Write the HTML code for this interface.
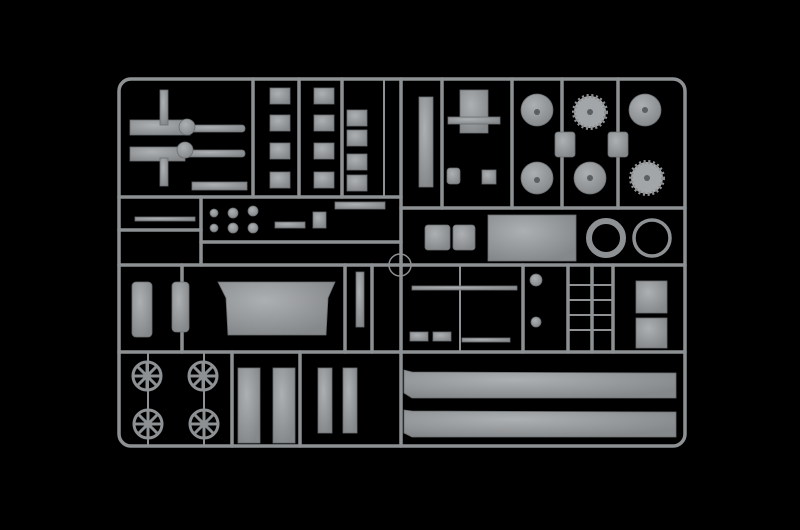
<!DOCTYPE html>
<html><head><style>html,body{margin:0;padding:0;background:#000;width:800px;height:530px;overflow:hidden}</style></head>
<body>
<svg width="800" height="530" viewBox="0 0 800 530" xmlns="http://www.w3.org/2000/svg">
<rect width="800" height="530" fill="#000"/>
<defs>
<radialGradient id="g" cx="40%" cy="35%" r="70%"><stop offset="0" stop-color="#adb0b2"/><stop offset="1" stop-color="#85888a"/></radialGradient>
</defs>
<g fill="none" stroke="#8e9193" stroke-width="3.5" stroke-linecap="round">
<rect x="119" y="79" width="566" height="367" rx="12"/>
<line x1="401" y1="79" x2="401" y2="446"/>
<line x1="119" y1="197" x2="401" y2="197"/>
<line x1="119" y1="265" x2="685" y2="265"/>
<line x1="119" y1="352" x2="685" y2="352"/>
<line x1="401" y1="208" x2="685" y2="208"/>
<line x1="253" y1="79" x2="253" y2="197"/>
<line x1="299" y1="79" x2="299" y2="197"/>
<line x1="342" y1="79" x2="342" y2="197"/>
<line x1="201" y1="197" x2="201" y2="265"/>
<line x1="201" y1="242" x2="401" y2="242"/>
<line x1="119" y1="230" x2="201" y2="230"/>
<line x1="442" y1="79" x2="442" y2="208"/>
<line x1="512" y1="79" x2="512" y2="208"/>
<line x1="562" y1="79" x2="562" y2="208"/>
<line x1="618" y1="79" x2="618" y2="208"/>
<line x1="523" y1="265" x2="523" y2="352"/>
<line x1="568" y1="265" x2="568" y2="352"/>
<line x1="592" y1="265" x2="592" y2="352"/>
<line x1="613" y1="265" x2="613" y2="352"/>
<line x1="182" y1="265" x2="182" y2="352"/>
<line x1="232" y1="352" x2="232" y2="446"/>
<line x1="300" y1="352" x2="300" y2="446"/>
<line x1="345" y1="265" x2="345" y2="352"/>
<line x1="372" y1="265" x2="372" y2="352"/>
<line x1="384" y1="79" x2="384" y2="197" stroke-width="2"/>
<line x1="460" y1="265" x2="460" y2="352" stroke-width="2"/>
<line x1="148" y1="352" x2="148" y2="446" stroke-width="2"/>
<line x1="204" y1="352" x2="204" y2="446" stroke-width="2"/>
<line x1="568" y1="300" x2="613" y2="300" stroke-width="2"/>
<line x1="568" y1="315" x2="613" y2="315" stroke-width="2"/>
<line x1="568" y1="330" x2="613" y2="330" stroke-width="2"/>
<line x1="568" y1="285" x2="613" y2="285" stroke-width="2"/>
</g>
<g fill="url(#g)" stroke="#6c6f71" stroke-width="0.8">
<rect x="130" y="120" width="60" height="15"/><rect x="185" y="125" width="60" height="7" rx="3"/><circle cx="187" cy="127" r="8"/>
<rect x="130" y="147" width="55" height="14"/><rect x="185" y="150" width="60" height="7" rx="3"/><circle cx="185" cy="150" r="8"/>
<rect x="160" y="90" width="8" height="35"/><rect x="160" y="158" width="8" height="28"/>
<rect x="192" y="182" width="55" height="8"/>
<rect x="270" y="88" width="20" height="16"/><rect x="270" y="115" width="20" height="16"/><rect x="270" y="143" width="20" height="16"/><rect x="270" y="172" width="20" height="16"/>
<rect x="314" y="88" width="20" height="16"/><rect x="314" y="115" width="20" height="16"/><rect x="314" y="143" width="20" height="16"/><rect x="314" y="172" width="20" height="16"/>
<rect x="347" y="110" width="20" height="16"/><rect x="347" y="130" width="20" height="16"/><rect x="347" y="154" width="20" height="16"/><rect x="347" y="175" width="20" height="16"/>
<circle cx="233" cy="213" r="5"/><circle cx="233" cy="228" r="5"/><circle cx="253" cy="211" r="5"/><circle cx="253" cy="228" r="5"/><circle cx="214" cy="213" r="4"/><circle cx="214" cy="228" r="4"/>
<rect x="313" y="212" width="13" height="16"/><rect x="335" y="202" width="50" height="7"/>
<rect x="275" y="222" width="30" height="6"/><rect x="135" y="217" width="60" height="4"/>
<rect x="132" y="282" width="20" height="55" rx="4"/><rect x="172" y="282" width="17" height="50" rx="4"/>
<path d="M218 282 L335 282 L328 298 L326 335 L228 335 L226 298 Z"/>
<rect x="356" y="272" width="8" height="55"/>
</g>
<g fill="none" stroke="#8e9193" stroke-width="3">
<circle cx="147" cy="376" r="14"/><circle cx="203" cy="376" r="14"/><circle cx="148" cy="424" r="14"/><circle cx="204" cy="424" r="14"/>
<path d="M133 376H161M147 362V390M137 366L157 386M157 366L137 386M189 376H217M203 362V390M193 366L213 386M213 366L193 386M134 424H162M148 410V438M138 414L158 434M158 414L138 434M190 424H218M204 410V438M194 414L214 434M214 414L194 434"/>
<circle cx="400" cy="265" r="11" stroke-width="1.5"/>
<circle cx="606" cy="238" r="17" stroke-width="6"/><circle cx="652" cy="238" r="18" stroke-width="3.5"/>
</g>
<g fill="url(#g)" stroke="#6c6f71" stroke-width="0.8">
<rect x="238" y="368" width="22" height="75"/><rect x="273" y="368" width="22" height="75"/>
<rect x="318" y="368" width="14" height="65"/><rect x="343" y="368" width="14" height="65"/>
<rect x="419" y="97" width="14" height="90"/>
<rect x="460" y="90" width="28" height="43"/><rect x="448" y="117" width="52" height="7"/>
<circle cx="537" cy="110" r="16"/><circle cx="537" cy="178" r="16"/>
<circle cx="645" cy="110" r="16"/><circle cx="590" cy="178" r="16"/>
<rect x="555" y="132" width="20" height="25" rx="3"/><rect x="608" y="132" width="20" height="25" rx="3"/>
<rect x="447" y="168" width="13" height="16" rx="3"/><rect x="482" y="170" width="14" height="14"/>
<rect x="425" y="225" width="25" height="25" rx="3"/><rect x="453" y="225" width="22" height="25" rx="3"/>
<rect x="488" y="215" width="88" height="46"/>
<rect x="636" y="281" width="31" height="32"/><rect x="636" y="318" width="31" height="30"/>
<circle cx="536" cy="280" r="6"/><circle cx="536" cy="322" r="5"/>
<rect x="410" y="332" width="18" height="9"/><rect x="433" y="332" width="18" height="9"/>
<rect x="412" y="286" width="105" height="4"/>
<rect x="462" y="338" width="48" height="4"/>
<path d="M404 370 L412 372 L676 373 L676 398 L412 398 L404 393 Z"/>
<path d="M404 410 L412 411 L676 412 L676 437 L412 437 L404 433 Z"/>
</g>
<g fill="#a3a6a8" stroke="#8e9193" stroke-width="4" stroke-dasharray="2 2.5">
<circle cx="590" cy="112" r="16"/><circle cx="647" cy="178" r="16"/>
</g>
<g fill="#5c5f61">
<circle cx="537" cy="112" r="3"/><circle cx="537" cy="180" r="3"/><circle cx="590" cy="112" r="3"/><circle cx="590" cy="178" r="3"/><circle cx="645" cy="110" r="3"/><circle cx="647" cy="178" r="3"/>
</g>
</svg>
</body></html>
